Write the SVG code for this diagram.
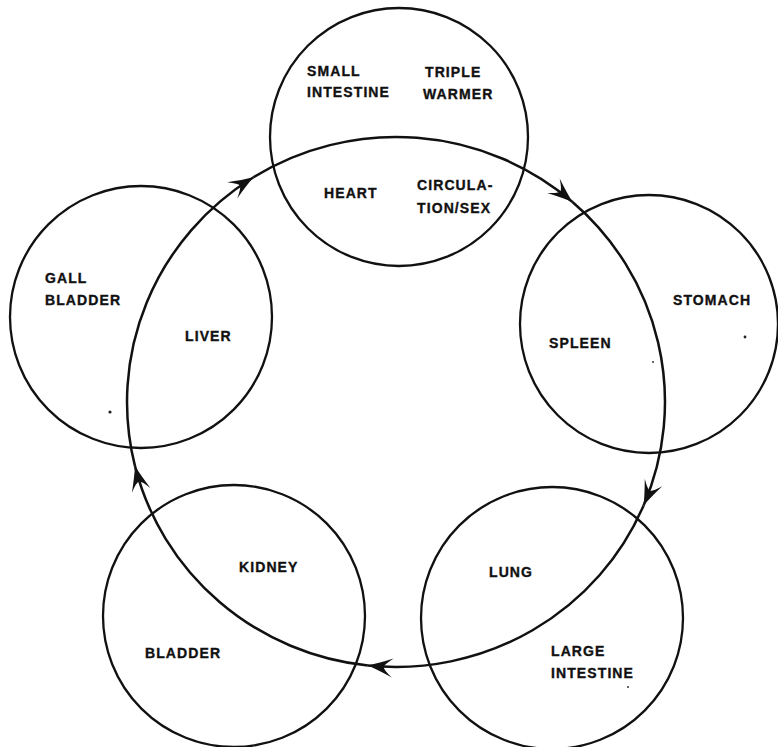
<svg xmlns="http://www.w3.org/2000/svg" width="778" height="747" viewBox="0 0 778 747">
  <style>
    .organ { fill: none; stroke: #111; stroke-width: 2.3; }
    .cycle { fill: none; stroke: #111; stroke-width: 2.5; marker-end: url(#barb); }
    .lbl { font-family: "Liberation Sans", Arial, sans-serif; font-weight: bold; font-size: 14px; letter-spacing: 1.1px; fill: #111; stroke: #111; stroke-width: 0.35; }
    .speck { fill: #222; }
  </style>
  <defs>
    <!-- swept-back arrowhead, tip at the origin -->
    <marker id="barb" markerUnits="userSpaceOnUse" viewBox="-27 -11 29 22" markerWidth="29" markerHeight="22" refX="0" refY="0" orient="auto">
      <path d="M0,0 Q-11,-3.5 -25,-9.5 Q-16,-2.5 -16,0 Q-16,2.5 -25,9.5 Q-11,3.5 0,0 Z" fill="#111"/>
    </marker>
  </defs>

  <rect width="778" height="747" fill="#fff"/>

  <!-- element circles -->
  <g id="fire">
    <circle class="organ" cx="399" cy="137" r="129"/>
    <text class="lbl" x="307" y="76">SMALL</text>
    <text class="lbl" x="307" y="97">INTESTINE</text>
    <text class="lbl" x="425" y="77">TRIPLE</text>
    <text class="lbl" x="423" y="99">WARMER</text>
    <text class="lbl" x="324" y="198">HEART</text>
    <text class="lbl" x="417" y="190">CIRCULA-</text>
    <text class="lbl" x="417" y="213">TION/SEX</text>
  </g>

  <g id="earth">
    <circle class="organ" cx="649" cy="324" r="129"/>
    <text class="lbl" x="673" y="305">STOMACH</text>
    <text class="lbl" x="549" y="348">SPLEEN</text>
  </g>

  <g id="metal">
    <circle class="organ" cx="552" cy="618" r="131"/>
    <text class="lbl" x="489" y="577">LUNG</text>
    <text class="lbl" x="551" y="656">LARGE</text>
    <text class="lbl" x="551" y="678">INTESTINE</text>
  </g>

  <g id="water">
    <circle class="organ" cx="234" cy="616" r="131"/>
    <text class="lbl" x="239" y="572">KIDNEY</text>
    <text class="lbl" x="145" y="658">BLADDER</text>
  </g>

  <g id="wood">
    <circle class="organ" cx="141" cy="317" r="131"/>
    <text class="lbl" x="45" y="283">GALL</text>
    <text class="lbl" x="45" y="305">BLADDER</text>
    <text class="lbl" x="185" y="341">LIVER</text>
  </g>

  <!-- clockwise generating cycle -->
  <g id="connectors">
    <path class="cycle" d="M253.5,177.3 A269,265 0 0 1 572.5,202.0"/>
    <path class="cycle" d="M572.5,202.0 A269,265 0 0 1 643.6,505.5"/>
    <path class="cycle" d="M643.6,505.5 A269,265 0 0 1 367.9,665.5"/>
    <path class="cycle" d="M367.9,665.5 A269,265 0 0 1 135.0,466.1"/>
    <path class="cycle" d="M135.0,466.1 A269,265 0 0 1 253.5,177.3"/>
  </g>

  <!-- small specks -->
  <circle class="speck" cx="110" cy="412" r="1.6"/>
  <circle class="speck" cx="745" cy="337" r="1.4"/>
  <circle class="speck" cx="653" cy="362" r="0.9"/>
  <circle class="speck" cx="628" cy="687" r="0.9"/>
</svg>
